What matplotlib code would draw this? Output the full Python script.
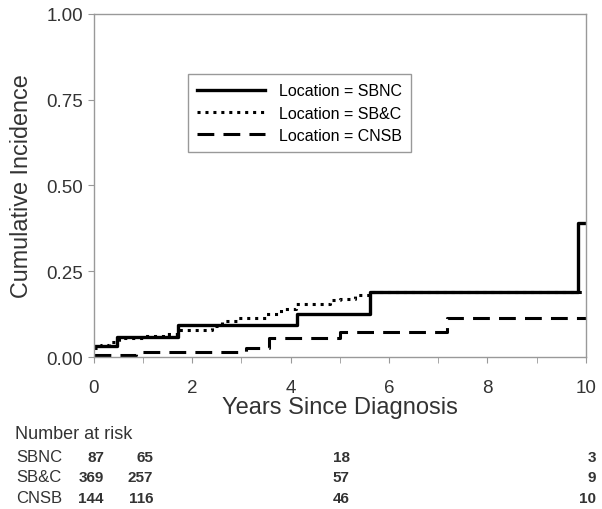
import numpy as np
import matplotlib
matplotlib.use('Agg')
import matplotlib.pyplot as plt

plt.rcParams['font.family'] = ['Liberation Sans', 'DejaVu Sans']

# step curves (time in years, cumulative incidence)
t_sbnc = [0, 0.47, 1.7, 4.12, 5.62, 9.85, 10.0]
ci_sbnc = [0.032, 0.058, 0.092, 0.125, 0.19, 0.39, 0.39]

t_sbc = [0, 0.15, 0.3, 0.5, 1.0, 1.4, 1.7, 2.4, 2.6, 2.9, 3.5, 3.8, 4.1, 4.8, 5.0, 5.3, 5.65, 10.0]
ci_sbc = [0.025, 0.035, 0.045, 0.055, 0.06, 0.067, 0.078, 0.09, 0.105, 0.115, 0.125, 0.14, 0.155, 0.165, 0.17, 0.18, 0.19, 0.19]

t_cnsb = [0, 0.85, 3.1, 3.55, 5.0, 7.17, 10.0]
ci_cnsb = [0.006, 0.015, 0.026, 0.055, 0.073, 0.114, 0.114]

# number at risk table
risk_times = [0, 1, 5, 10]
risk_groups = ['SBNC', 'SB&C', 'CNSB']
risk_counts = [[87, 65, 18, 3],
               [369, 257, 57, 9],
               [144, 116, 46, 10]]

fig = plt.figure(figsize=(6.02, 5.10), dpi=100)
ax = fig.add_axes([0.156, 0.298, 0.817, 0.673])

ax.step(t_sbnc, ci_sbnc, where='post', color='black', lw=2.4, label='Location = SBNC')
ax.step(t_sbc, ci_sbc, where='post', color='black', lw=2.2, linestyle=(0, (1, 1.6)), label='Location = SB&C')
ax.step(t_cnsb, ci_cnsb, where='post', color='black', lw=2.2, linestyle=(0, (5.5, 3)), label='Location = CNSB')

ax.set_xlim(0, 10)
ax.set_ylim(0, 1)
ax.set_xticks([0, 2, 4, 6, 8, 10])
ax.set_xticks([1, 3, 5, 7, 9], minor=True)
ax.set_yticks([0, 0.25, 0.5, 0.75, 1.0])
ax.set_yticklabels(['0.00', '0.25', '0.50', '0.75', '1.00'])

for s in ax.spines.values():
    s.set_color('#999999')
    s.set_linewidth(1)
ax.tick_params(which='both', direction='out', color='#999999', labelsize=13.5, labelcolor='#333333', length=4)
ax.tick_params(axis='x', pad=12)

ax.set_ylabel('Cumulative Incidence', fontsize=16.8, color='#333333', labelpad=10)
ax.set_xlabel('Years Since Diagnosis', fontsize=17, color='#333333', labelpad=0)

leg = ax.legend(loc='upper left', bbox_to_anchor=(0.191, 0.825), fontsize=11.5, handlelength=4.2,
                fancybox=False, framealpha=1, borderpad=0.6, borderaxespad=0, labelspacing=0.45,
                handletextpad=0.9)
leg.get_frame().set_edgecolor('#999999')
leg.get_frame().set_linewidth(1)

# number at risk
fig.text(15 / 602, 1 - 435 / 510, 'Number at risk', fontsize=13, va='center', color='#333333')
row_y = [458, 478, 499]
for g, counts, yy in zip(risk_groups, risk_counts, row_y):
    fig.text(16 / 602, 1 - yy / 510, g, fontsize=12, va='center', color='#333333')
    for tt, n in zip(risk_times, counts):
        xf = ax.transData.transform((tt, 0))[0] + 10
        fig.text(xf / 602, 1 - yy / 510, str(n), fontsize=11, fontweight='bold',
                 ha='right', va='center', color='#333333')

fig.savefig('out.png', dpi=100)
